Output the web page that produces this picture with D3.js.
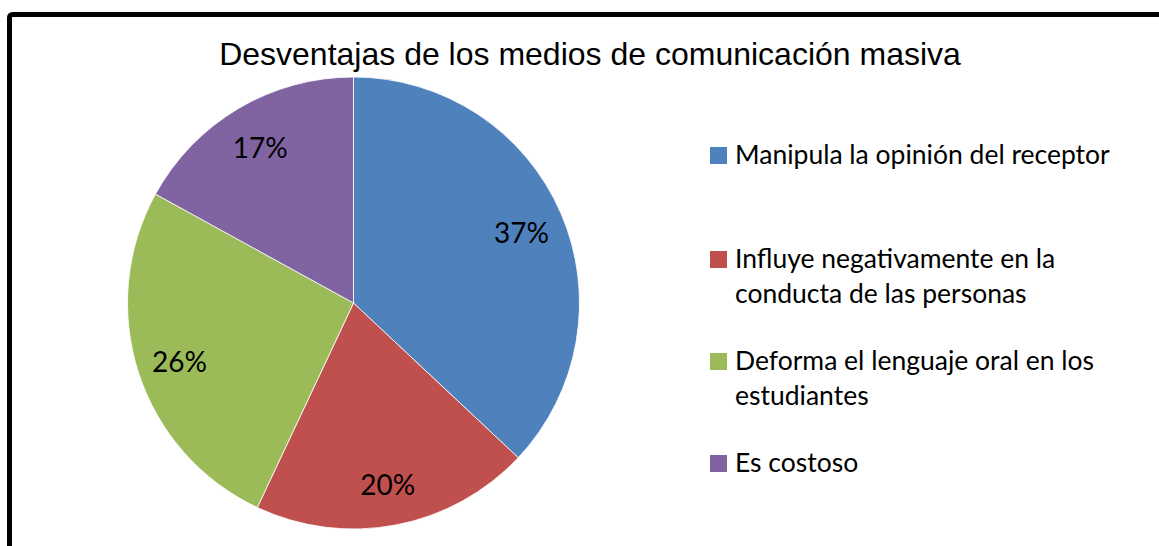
<!DOCTYPE html>
<html>
<head>
<meta charset="utf-8">
<script src="https://cdn.jsdelivr.net/npm/d3@7"></script>
<style>
  body { margin: 0; background: #fff; }
  svg { display: block; }
</style>
</head>
<body>
<svg id="chart" width="1159" height="546"></svg>
<script>
// Data
const categories = [
    ["Manipula la opinión del receptor"],
    ["Influye negativamente en la", "conducta de las personas"],
    ["Deforma el lenguaje oral en los", "estudiantes"],
    ["Es costoso"]
];
const values = [37, 20, 26, 17];
const colours = ["#4F81BD", "#C0504D", "#9BBB59", "#8064A2"];
const chartTitle = "Desventajas de los medios de comunicación masiva";

const svg = d3.select("#chart");

// Frame (right and bottom edges run off the picture)
svg.append("rect")
    .attr("x", 9.5).attr("y", 14.5)
    .attr("width", 1300).attr("height", 700)
    .attr("rx", 3)
    .attr("fill", "white")
    .attr("stroke", "#000")
    .attr("stroke-width", 5);

// Title
svg.append("text")
    .attr("x", 590).attr("y", 65)
    .attr("text-anchor", "middle")
    .style("font-family", "'Liberation Sans', Arial, sans-serif")
    .style("font-size", "32px")
    .text(chartTitle);

// Pie
const cx = 353.5, cy = 303, radius = 226;
const g = svg.append("g").attr("transform", `translate(${cx},${cy})`);

const pie = d3.pie().sort(null).value(d => d);
const arc = d3.arc().innerRadius(0).outerRadius(radius);
const labelArc = d3.arc().innerRadius(radius * 0.62).outerRadius(radius * 1.0);

const total = d3.sum(values);
const slices = pie(values);

g.selectAll("path")
    .data(slices)
    .enter()
    .append("path")
    .attr("d", arc)
    .attr("fill", (d, i) => colours[i])
    .attr("stroke", "#fff")
    .attr("stroke-width", 0.8);

g.selectAll("text")
    .data(slices)
    .enter()
    .append("text")
    .attr("transform", d => `translate(${labelArc.centroid(d)})`)
    .attr("text-anchor", "middle")
    .attr("dy", "0.45em")
    .style("font-family", "Lato, 'Open Sans', sans-serif")
    .style("font-size", "28px")
    .style("fill", "#000")
    .text(d => `${Math.round(d.data / total * 100)}%`);

// Legend
const legendX = 710;
const legendBaselines = [164, 268, 370, 472];
const lineHeight = 35;
const legend = svg.append("g");

categories.forEach((lines, i) => {
    const y = legendBaselines[i];
    legend.append("rect")
        .attr("x", legendX).attr("y", y - 17)
        .attr("width", 17).attr("height", 17)
        .attr("fill", colours[i]);
    const t = legend.append("text")
        .attr("x", legendX + 25).attr("y", y)
        .style("font-family", "Lato, 'Open Sans', sans-serif")
        .style("font-size", "26.5px")
        .style("fill", "#000");
    lines.forEach((line, j) => {
        t.append("tspan")
            .attr("x", legendX + 25)
            .attr("y", y + j * lineHeight)
            .text(line);
    });
});
</script>
</body>
</html>
